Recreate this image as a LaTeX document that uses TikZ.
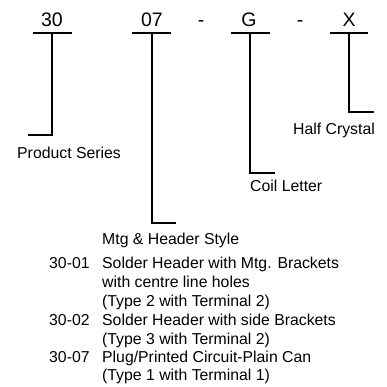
\documentclass[tikz,border=0pt]{standalone}
\usepackage{fontspec}
\setmainfont{Liberation Sans}
\begin{document}
\begin{tikzpicture}[x=1pt,y=-1pt,
  big/.style={font=\fontsize{19.5}{23}\selectfont,inner sep=0pt,anchor=base},
  lbl/.style={font=\fontsize{15.8}{19}\selectfont,inner sep=0pt,anchor=base west},
  lead/.style={line width=2.2pt}]
\useasboundingbox (0,0) rectangle (387,386);
% code characters
\node[big] (c30) at (52,26) {30};
\node[big] (c07) at (152,26) {07};
\node[big] (d1) at (201,26) {-};
\node[big] (cG) at (249,26) {G};
\node[big] (d2) at (300,26) {-};
\node[big] (cX) at (349,26) {X};
% labels
\node[lbl] (ps) at (17,158) {Product Series};
\node[lbl] (cl) at (250,191) {Coil Letter};
\node[lbl] (hc) at (293,134) {Half Crystal};
\node[lbl] (mh) at (102,244) {Mtg \& Header Style};
% leader lines
\coordinate (b30) at (52,33);
\coordinate (b07) at (152,33);
\coordinate (bG) at (250,33);
\coordinate (bX) at (349,33);
\draw[lead] (33,33) -- (72,33);
\draw[lead] (b30) -- (52,135) -- (28,135);
\draw[lead] (132,33) -- (171,33);
\draw[lead] (b07) -- (152,223) -- (176,223);
\draw[lead] (231,33) -- (270,33);
\draw[lead] (bG) -- (250,173) -- (275,173);
\draw[lead] (330,33) -- (368,33);
\draw[lead] (bX) -- (349,112) -- (374,112);
% list
\node[lbl] (n1) at (49,268) {30-01};
\node[lbl] (t1a) at (102,268) {Solder Header with Mtg. Brackets};
\node[lbl] (t1b) at (102,287) {with centre line holes};
\node[lbl] (t1c) at (102,306) {(Type 2 with Terminal 2)};
\node[lbl] (n2) at (49,325) {30-02};
\node[lbl] (t2a) at (102,325) {Solder Header with side Brackets};
\node[lbl] (t2b) at (102,344) {(Type 3 with Terminal 2)};
\node[lbl] (n3) at (49,362) {30-07};
\node[lbl] (t3a) at (102,362) {Plug/Printed Circuit-Plain Can};
\node[lbl] (t3b) at (102,380) {(Type 1 with Terminal 1)};
\end{tikzpicture}
\end{document}
